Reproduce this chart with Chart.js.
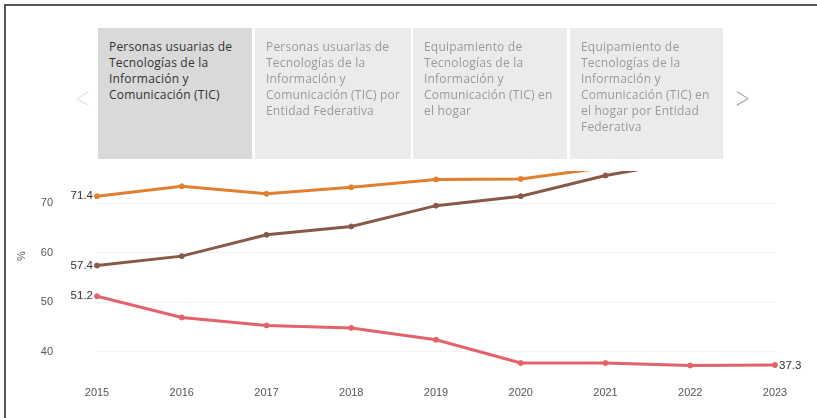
<!DOCTYPE html>
<html>
<head>
<meta charset="utf-8">
<script src="https://cdn.jsdelivr.net/npm/chart.js@4"></script>
<style>
  body { margin: 0; background: #fff; }
  #wrap { position: relative; width: 817px; height: 418px; overflow: hidden; }
  #frame { position: absolute; left: 4px; top: 4px; right: -5px; bottom: -5px;
           border-top: 2px solid #555; border-left: 2px solid #555; }
  canvas { position: absolute; left: 0; top: 0; }
  .tab { position: absolute; top: 28px; height: 131px; background: #ebebeb;
         font-family: "Open Sans", sans-serif; font-size: 12px; line-height: 16px; letter-spacing: 0.2px;
         color: #9a9a9a; padding: 11px 0 0 11px; box-sizing: border-box; white-space: nowrap; }
  .tab.sel { background: #d9d9d9; color: #333; }
  .arrow { position: absolute; top: 80px; font-family: "DejaVu Sans", sans-serif;
           font-size: 30px; font-weight: 200; transform: scaleX(0.6); }
  #ytitle { position: absolute; left: 16px; top: 250px; font-family: "Liberation Sans", sans-serif;
            font-size: 11px; color: #555; transform: rotate(-90deg); }
</style>
</head>
<body>
<div id="wrap">
  <canvas id="line-chart" width="817" height="427"></canvas>
  <div id="frame"></div>
  <div id="ytitle">%</div>
  <div class="arrow" style="left:70px;color:#e6e6e6">&lt;</div>
  <div class="tab sel" style="left:98px;width:154px">Personas usuarias de<br>Tecnologías de la<br>Información y<br>Comunicación (TIC)</div>
  <div class="tab" style="left:255px;width:156px">Personas usuarias de<br>Tecnologías de la<br>Información y<br>Comunicación (TIC) por<br>Entidad Federativa</div>
  <div class="tab" style="left:413px;width:154px">Equipamiento de<br>Tecnologías de la<br>Información y<br>Comunicación (TIC) en<br>el hogar</div>
  <div class="tab" style="left:570px;width:153px">Equipamiento de<br>Tecnologías de la<br>Información y<br>Comunicación (TIC) en<br>el hogar por Entidad<br>Federativa</div>
  <div class="arrow" style="left:730px;color:#aaa">&gt;</div>
</div>
<script>
// años y porcentajes
var years = ["2015", "2016", "2017", "2018", "2019", "2020", "2021", "2022", "2023"]
var celular = [71.4, 73.4, 71.9, 73.2, 74.8, 74.9, 77.2, 79.2, 81.4]
var internet = [57.4, 59.3, 63.6, 65.3, 69.5, 71.4, 75.6, 78.6, 81.2]
var computadora = [51.2, 46.9, 45.3, 44.8, 42.4, 37.7, 37.7, 37.2, 37.3]
var yTicks = [40, 50, 60, 70]

// etiquetas de valor: al inicio de cada linea y al final de la roja
var labelPlugin = {
    id: "valueLabels",
    afterDatasetsDraw: function (chart) {
        var ctx = chart.ctx
        ctx.save()
        ctx.font = "11.5px 'Liberation Sans', Arial, sans-serif"
        ctx.fillStyle = "#333"
        ctx.textBaseline = "middle"
        chart.data.datasets.forEach(function (ds, i) {
            var meta = chart.getDatasetMeta(i)
            ;(ds.labelAt || []).forEach(function (idx) {
                var p = meta.data[idx]
                var txt = ds.data[idx].toFixed(1)
                if (idx == 0) {
                    ctx.textAlign = "right"
                    ctx.fillText(txt, p.x - 4, p.y)
                } else {
                    ctx.textAlign = "left"
                    ctx.fillText(txt, p.x + 4, p.y + 1)
                }
            })
        })
        ctx.restore()
    }
}

function serie(label, data, color, labelAt) {
    return {
        label: label,
        data: data,
        borderColor: color,
        backgroundColor: color,
        borderWidth: 3,
        pointRadius: 2.5,
        pointBorderWidth: 1,
        pointBorderColor: color,
        tension: 0,
        labelAt: labelAt
    }
}

var lineChart = new Chart(document.getElementById("line-chart").getContext("2d"), {
    type: "line",
    data: {
        labels: years,
        datasets: [
            serie("Teléfono celular", celular, "#e0802f", [0]),
            serie("Internet", internet, "#875a48", [0]),
            serie("Computadora", computadora, "#e3626c", [0, 8])
        ]
    },
    options: {
        responsive: false,
        animation: false,
        layout: { padding: { top: 171, right: 42, left: 0, bottom: 0 } },
        plugins: { legend: { display: false }, tooltip: { enabled: false } },
        scales: {
            x: {
                offset: false,
                grid: { display: false },
                border: { display: false },
                ticks: {
                    color: "#555", padding: 2, maxRotation: 0,
                    font: { family: "'Liberation Sans Narrow', 'Liberation Sans', sans-serif", size: 11 }
                },
                afterFit: function (scale) { scale.height = 30.4 }
            },
            y: {
                min: 35,
                max: 76.5,
                grid: { color: "#f3f3f3", drawTicks: false },
                border: { display: false },
                afterBuildTicks: function (scale) {
                    scale.ticks = yTicks.map(function (v) { return { value: v } })
                },
                ticks: {
                    color: "#555", padding: 44,
                    font: { family: "'Liberation Sans Narrow', 'Liberation Sans', sans-serif", size: 11 }
                },
                afterFit: function (scale) { scale.width = 97 }
            }
        }
    },
    plugins: [labelPlugin]
})
</script>
</body>
</html>
